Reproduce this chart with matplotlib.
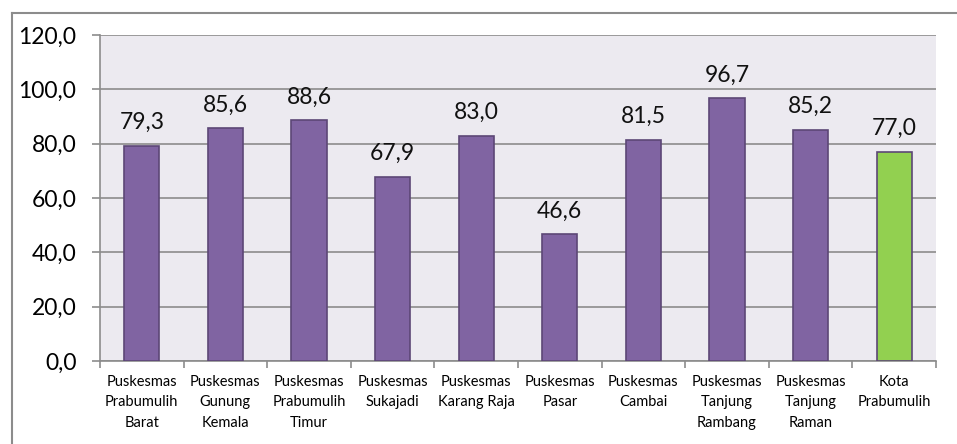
import matplotlib
matplotlib.use("Agg")
import matplotlib.pyplot as plt
from matplotlib.lines import Line2D

categories = ["Puskesmas\nPrabumulih\nBarat", "Puskesmas\nGunung\nKemala", "Puskesmas\nPrabumulih\nTimur",
              "Puskesmas\nSukajadi", "Puskesmas\nKarang Raja", "Puskesmas\nPasar", "Puskesmas\nCambai",
              "Puskesmas\nTanjung\nRambang", "Puskesmas\nTanjung\nRaman", "Kota\nPrabumulih"]
values = [79.3, 85.6, 88.6, 67.9, 83.0, 46.6, 81.5, 96.7, 85.2, 77.0]
bar_colors = ["#8064A2"] * 9 + ["#92D050"]
yticks = [0, 20, 40, 60, 80, 100, 120]

plt.rcParams['font.family'] = ['Lato', 'DejaVu Sans']

W, H = 957, 444
fig = plt.figure(figsize=(W / 100, H / 100), dpi=100)
ax = fig.add_axes([100 / W, 1 - 361 / H, (936 - 100) / W, (361 - 35) / H])
ax.set_facecolor("#ECEAF0")

x = list(range(len(values)))
bars = ax.bar(x, values, width=0.42, color=bar_colors, edgecolor="#5C4776", linewidth=1.2, zorder=3)
for xi, v in zip(x, values):
    ax.annotate(f"{v:.1f}".replace(".", ","), (xi, v), xytext=(0, 12), textcoords="offset points",
                ha="center", va="baseline", fontsize=16.5, color="#111111")

ax.set_xlim(-0.5, len(values) - 0.5)
ax.set_ylim(0, 120)
ax.set_yticks(yticks)
ax.set_yticklabels([f"{t:.1f}".replace(".", ",") for t in yticks], fontsize=16.5)
ax.yaxis.grid(True, color="#8C8C8C", linewidth=1.2, zorder=0)
ax.set_axisbelow(True)

ax.set_xticks([i - 0.5 for i in range(len(values) + 1)], minor=False)
ax.set_xticklabels([])
ax.set_xticks(x, minor=True)
ax.set_xticklabels(categories, minor=True, fontsize=10.5, linespacing=1.6)
ax.tick_params(axis="x", which="minor", length=0, pad=10)
ax.tick_params(axis="x", which="major", length=5, color="#8C8C8C", width=1.2)
ax.tick_params(axis="y", length=6, color="#8C8C8C", width=1.2, pad=11)

for s in ["top", "right"]:
    ax.spines[s].set_visible(False)
for s in ["left", "bottom"]:
    ax.spines[s].set_color("#8C8C8C")
    ax.spines[s].set_linewidth(1.2)

# outer chart border (only left and top visible)
fig.add_artist(Line2D([11.5 / W, 11.5 / W], [0, 1 - 13 / H], color="#8C8C8C", linewidth=1.5))
fig.add_artist(Line2D([11.5 / W, 1], [1 - 13 / H, 1 - 13 / H], color="#8C8C8C", linewidth=1.5))

fig.savefig("out.png", dpi=100)
